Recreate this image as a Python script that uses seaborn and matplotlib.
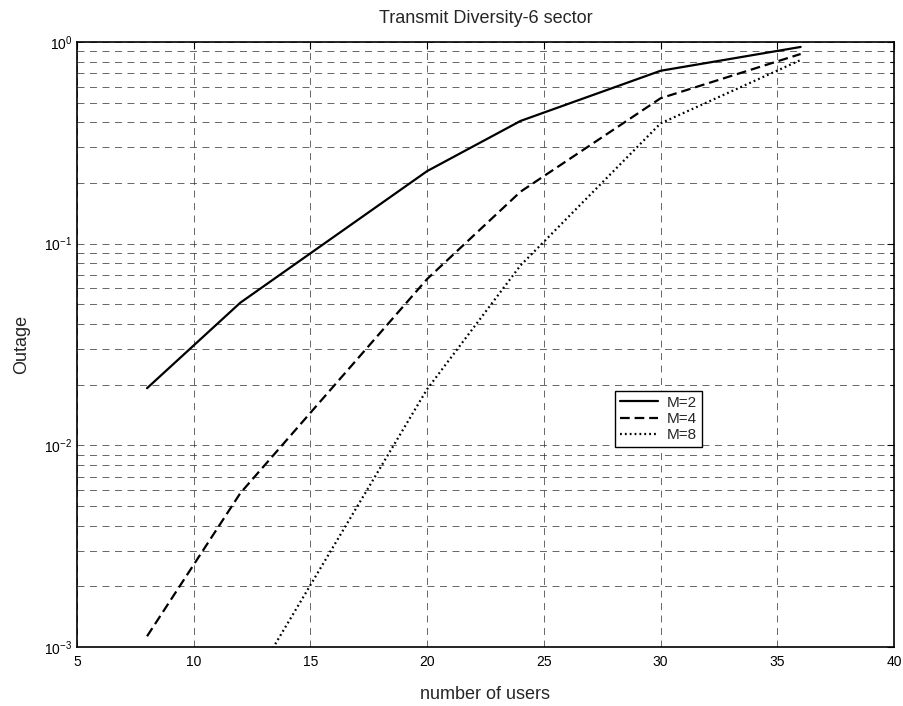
import numpy as np
import pandas as pd
import matplotlib
matplotlib.use("Agg")
import matplotlib.pyplot as plt
import seaborn as sns
from matplotlib.ticker import LogLocator, FixedLocator

users_m2 = [8, 12, 20, 24, 30, 36]
outage_m2 = [0.0192, 0.051, 0.229, 0.406, 0.72, 0.945]
users_m4 = [8, 12, 20, 24, 30, 36]
outage_m4 = [0.00113, 0.0058, 0.0668, 0.181, 0.526, 0.872]
users_m8 = [12, 20, 24, 30, 36]
outage_m8 = [0.00053, 0.019, 0.078, 0.395, 0.814]
series_names = ["M=2", "M=4", "M=8"]
x_ticks = [5, 10, 15, 20, 25, 30, 35, 40]

df = pd.concat([
    pd.DataFrame({"users": users_m2, "outage": outage_m2, "M": "M=2"}),
    pd.DataFrame({"users": users_m4, "outage": outage_m4, "M": "M=4"}),
    pd.DataFrame({"users": users_m8, "outage": outage_m8, "M": "M=8"}),
])

sns.set_theme(style="white")
plt.rcParams["font.family"] = ["Liberation Sans", "DejaVu Sans"]
plt.rcParams["mathtext.fontset"] = "custom"
plt.rcParams["mathtext.rm"] = "Liberation Sans"
plt.rcParams["mathtext.it"] = "Liberation Sans:italic"
plt.rcParams["lines.scale_dashes"] = False

fig = plt.figure(figsize=(9.04, 7.06), dpi=100)
ax = fig.add_axes([77/904, 59/706, 817/904, 605/706])

styles = {"M=2": (None, "-"), "M=4": ((7, 3.5), "--"), "M=8": ((1.3, 2.2), ":")}
for name in series_names:
    sub = df[df["M"] == name]
    dash, ls = styles[name]
    sns.lineplot(data=sub, x="users", y="outage", ax=ax, color="black",
                 linewidth=1.6, label=name, estimator=None, sort=False)
    line = ax.get_lines()[-1]
    if dash is not None:
        line.set_dashes(dash)

ax.set_yscale("log")
ax.set_xlim(5, 40)
ax.set_ylim(1e-3, 1)
ax.xaxis.set_major_locator(FixedLocator(x_ticks))
ax.yaxis.set_major_locator(LogLocator(base=10, numticks=10))
ax.yaxis.set_minor_locator(LogLocator(base=10, subs=np.arange(2, 10), numticks=20))

grid_kw = dict(color="#333333", linestyle=(0, (5, 4)), linewidth=0.7, alpha=0.75)
ax.grid(True, which="major", axis="both", **grid_kw)
ax.grid(True, which="minor", axis="y", **grid_kw)

for s in ax.spines.values():
    s.set_color("black")
    s.set_linewidth(1.2)

ax.tick_params(axis="both", which="both", direction="in", top=True, right=True,
               colors="black", labelsize=10)
ax.tick_params(axis="both", which="major", length=5, width=0.8)
ax.tick_params(axis="y", which="minor", length=3, width=0.8)
ax.tick_params(axis="x", pad=6)

ax.set_title("Transmit Diversity-6 sector", fontsize=13, pad=14)
ax.set_xlabel("number of users", fontsize=13, labelpad=12)
ax.set_ylabel("Outage", fontsize=13, labelpad=10)

leg = ax.legend(loc="upper left", bbox_to_anchor=(0.6585, 0.423), frameon=True,
                fancybox=False, edgecolor="black", framealpha=1, fontsize=11,
                handlelength=2.5, borderpad=0.3, labelspacing=0.15,
                handletextpad=0.6, borderaxespad=0)
leg.get_frame().set_linewidth(1.0)

fig.savefig("out.png", dpi=100)
